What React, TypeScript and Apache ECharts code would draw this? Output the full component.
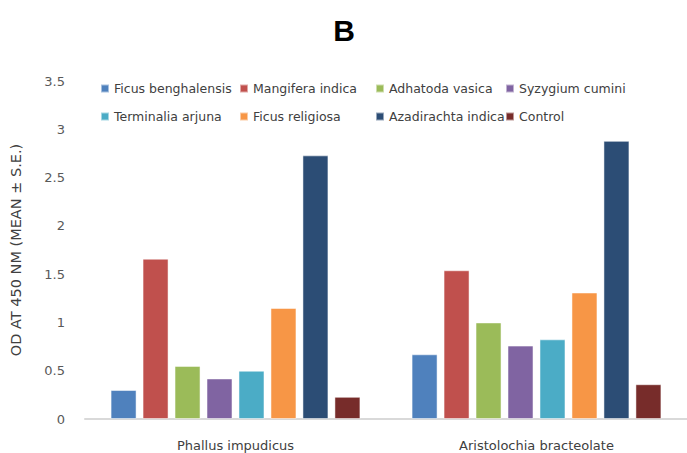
import React, { useEffect, useRef } from "react";
import * as echarts from "echarts";

const categories = ["Phallus impudicus", "Aristolochia bracteolate"];
const seriesNames = [
  "Ficus benghalensis",
  "Mangifera indica",
  "Adhatoda vasica",
  "Syzygium cumini",
  "Terminalia arjuna",
  "Ficus religiosa",
  "Azadirachta indica",
  "Control",
];
const ficusBenghalensis = [0.30, 0.67];
const mangiferaIndica = [1.66, 1.54];
const adhatodaVasica = [0.55, 1.0];
const syzygiumCumini = [0.42, 0.76];
const terminaliaArjuna = [0.5, 0.825];
const ficusReligiosa = [1.15, 1.31];
const azadirachtaIndica = [2.73, 2.88];
const control = [0.23, 0.36];
const seriesValues = [
  ficusBenghalensis,
  mangiferaIndica,
  adhatodaVasica,
  syzygiumCumini,
  terminaliaArjuna,
  ficusReligiosa,
  azadirachtaIndica,
  control,
];
const colors = ["#4F81BD", "#C0504D", "#9BBB59", "#8064A2", "#4BACC6", "#F79646", "#2C4D75", "#772C2A"];

const legendCols = [95, 234, 370, 500];
const legendRows = [77, 105];

export default function App() {
  const ref = useRef<HTMLDivElement>(null);
  useEffect(() => {
    document.body.style.margin = "0";
    const chart = echarts.init(ref.current!, undefined, { renderer: "svg" });
    const font = "DejaVu Sans";
    chart.setOption({
      animation: false,
      backgroundColor: "#ffffff",
      title: {
        text: "B",
        left: 339,
        top: 10,
        textAlign: "center",
        textStyle: { fontSize: 30, fontWeight: "bold", color: "#000", fontFamily: "Liberation Sans" },
      },
      legend: seriesNames.map((n, i) => ({
        data: [n],
        left: legendCols[i % 4],
        top: legendRows[Math.floor(i / 4)],
        itemWidth: 8,
        itemHeight: 8,
        icon: "rect",
        selectedMode: false,
        textStyle: { fontSize: 12.5, color: "#404040", fontFamily: font },
      })),
      grid: { left: 84, top: 81, width: 613, height: 338 },
      xAxis: {
        type: "category",
        data: categories,
        axisLine: { lineStyle: { color: "#D9D9D9", width: 2 } },
        axisTick: { show: false },
        axisLabel: { margin: 20, fontSize: 13, color: "#404040", fontFamily: font },
      },
      yAxis: {
        type: "value",
        min: 0,
        max: 3.5,
        interval: 0.5,
        name: "OD AT 450 NM (MEAN ± S.E.)",
        nameLocation: "middle",
        nameGap: 62,
        nameTextStyle: { fontSize: 14.5, color: "#404040", fontFamily: font },
        splitLine: { show: false },
        axisLine: { show: false },
        axisTick: { show: false },
        axisLabel: { margin: 20, fontSize: 13, color: "#595959", fontFamily: font },
      },
      series: seriesNames.map((n, i) => ({
        name: n,
        type: "bar",
        data: seriesValues[i],
        barWidth: 26,
        barGap: "23%",
        itemStyle: { color: colors[i], borderColor: "rgba(255,255,255,0.5)", borderWidth: 1 },
      })),
    });
    return () => chart.dispose();
  }, []);
  return <div ref={ref} style={{ width: 687, height: 453 }} />;
}
